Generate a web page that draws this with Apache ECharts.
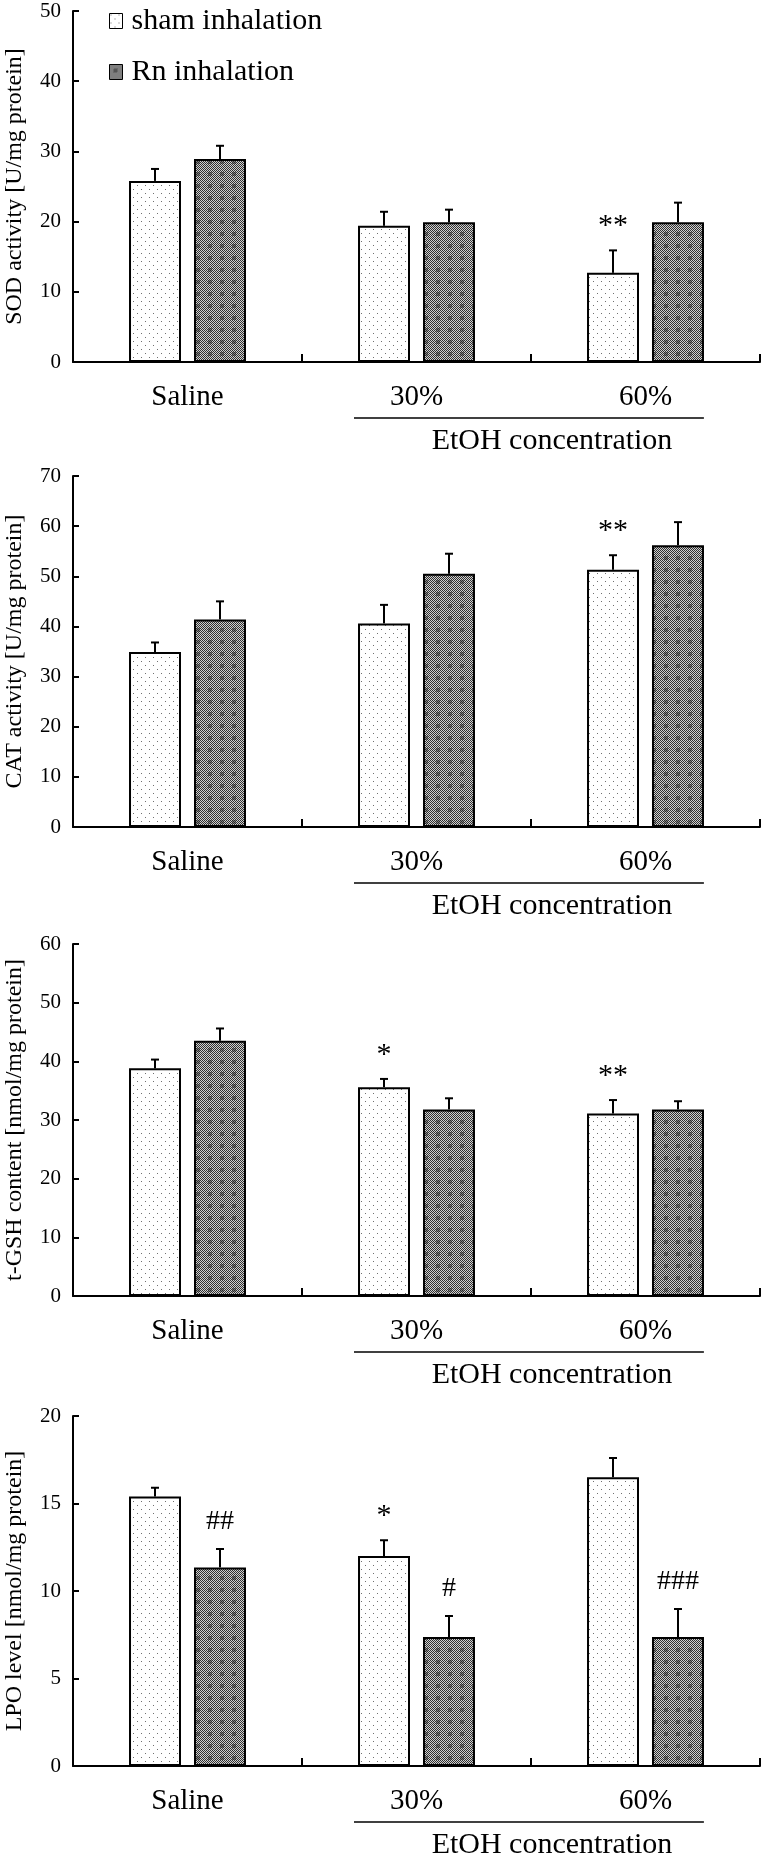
<!DOCTYPE html>
<html><head><meta charset="utf-8">
<script src="https://cdn.jsdelivr.net/npm/echarts@6/dist/echarts.min.js"></script>
<style>html,body{margin:0;padding:0;background:#fff}#c{width:763px;height:1855px}</style>
</head><body><div id="c"></div>
<script>
// ---------- data ----------
const categories = ['Saline', '30%', '60%'];
const seriesNames = ['sham inhalation', 'Rn inhalation'];
const yNames = ['SOD activity [U/mg protein]', 'CAT activity [U/mg protein]', 't-GSH content [nmol/mg protein]', 'LPO level [nmol/mg protein]'];
const yMax = [50, 70, 60, 20];
const yStep = [10, 10, 10, 5];
const groupLabel = 'EtOH concentration';

const sodSham = [25.8, 19.4, 12.7];
const sodRn = [28.9, 19.9, 19.9];
const sodShamErr = [1.7, 2.0, 3.2];
const sodRnErr = [1.9, 1.8, 2.8];
const sodShamMarks = ['', '', '**'];
const sodRnMarks = ['', '', ''];

const catSham = [34.9, 40.6, 51.3];
const catRn = [41.4, 50.5, 56.2];
const catShamErr = [1.9, 3.7, 2.9];
const catRnErr = [3.6, 4.0, 4.6];
const catShamMarks = ['', '', '**'];
const catRnMarks = ['', '', ''];

const gshSham = [38.8, 35.6, 31.1];
const gshRn = [43.5, 31.8, 31.8];
const gshShamErr = [1.5, 1.4, 2.3];
const gshRnErr = [2.1, 1.9, 1.4];
const gshShamMarks = ['', '*', '**'];
const gshRnMarks = ['', '', ''];

const lpoSham = [15.4, 12.0, 16.5];
const lpoRn = [11.35, 7.37, 7.37];
const lpoShamErr = [0.5, 0.9, 1.1];
const lpoRnErr = [1.05, 1.2, 1.6];
const lpoShamMarks = ['', '*', ''];
const lpoRnMarks = ['##', '#', '###'];

// ---------- styling ----------
const FONT = "'Liberation Serif','Times New Roman',serif";
const panels = [
  {vals: [sodSham, sodRn], errs: [sodShamErr, sodRnErr], marks: [sodShamMarks, sodRnMarks]},
  {vals: [catSham, catRn], errs: [catShamErr, catRnErr], marks: [catShamMarks, catRnMarks]},
  {vals: [gshSham, gshRn], errs: [gshShamErr, gshRnErr], marks: [gshShamMarks, gshRnMarks]},
  {vals: [lpoSham, lpoRn], errs: [lpoShamErr, lpoRnErr], marks: [lpoShamMarks, lpoRnMarks]}
];
const gridTops = [11, 476, 944, 1416];
const gridHeights = [351, 351, 352, 350];
const BAR_W = 0.227, BAR_GAP = 0.25;

function dotPattern() {
  const c = document.createElement('canvas'); c.width = 8; c.height = 8;
  const g = c.getContext('2d');
  g.fillStyle = '#fff'; g.fillRect(0, 0, 8, 8);
  g.fillStyle = '#707070';
  g.fillRect(1, 1, 1, 1); g.fillRect(5, 5, 1, 1);
  return {image: c, repeat: 'repeat'};
}
function checkPattern() {
  const n = 12;
  const c = document.createElement('canvas'); c.width = n; c.height = n;
  const g = c.getContext('2d');
  for (let y = 0; y < n; y++) for (let x = 0; x < n; x++) {
    const d = Math.max(Math.abs(x - 5.5), Math.abs(y - 5.5));
    const dark = (x + y) % 2 === 0;
    let col;
    if (d < 2.5) col = dark ? '#2a2a2a' : '#808080';
    else col = dark ? '#303030' : '#cfcfcf';
    g.fillStyle = col; g.fillRect(x, y, 1, 1);
  }
  return {image: c, repeat: 'repeat'};
}
const fills = [dotPattern(), checkPattern()];

const grids = [], xAxes = [], yAxes = [], series = [];
panels.forEach((p, pi) => {
  grids.push({left: 73, right: 3, top: gridTops[pi], height: gridHeights[pi], containLabel: false, outerBoundsMode: 'none'});
  xAxes.push({
    type: 'category', gridIndex: pi, data: categories,
    axisLine: {lineStyle: {color: '#000', width: 2}},
    axisTick: {show: true, inside: true, length: 8, lineStyle: {color: '#000', width: 2}},
    axisLabel: {color: '#000', fontFamily: FONT, fontSize: 29, margin: 21},
    splitLine: {show: false}
  });
  yAxes.push({
    type: 'value', gridIndex: pi, min: 0, max: yMax[pi], interval: yStep[pi],
    splitLine: {show: false},
    axisLine: {show: true, lineStyle: {color: '#000', width: 2}},
    axisTick: {show: true, inside: true, length: 6, lineStyle: {color: '#000', width: 2}},
    axisLabel: {color: '#000', fontFamily: FONT, fontSize: 21, margin: 12},
    name: yNames[pi], nameLocation: 'middle', nameGap: 46,
    nameTextStyle: {color: '#000', fontFamily: FONT, fontSize: 24}
  });
  [0, 1].forEach(g => {
    series.push({
      type: 'bar', name: seriesNames[g], xAxisIndex: pi, yAxisIndex: pi,
      data: p.vals[g], barWidth: (BAR_W * 100) + '%', barGap: (BAR_GAP * 100) + '%',
      itemStyle: {color: fills[g], borderColor: '#000', borderWidth: 2},
      emphasis: {disabled: true}, silent: true
    });
  });
  [0, 1].forEach(g => {
    const means = p.vals[g], errs = p.errs[g], marks = p.marks[g];
    series.push({
      type: 'custom', xAxisIndex: pi, yAxisIndex: pi, silent: true, z: 5,
      data: means.map((v, i) => [i, v + errs[i]]),
      encode: {x: 0, y: 1},
      renderItem: function (params, api) {
        const i = params.dataIndex;
        const band = api.size([1, 0])[0];
        const off = (g === 0 ? -1 : 1) * (BAR_W + BAR_W * BAR_GAP) / 2 * band;
        const base = api.coord([i, means[i]]);
        const top = api.coord([i, means[i] + errs[i]]);
        const x = base[0] + off;
        const children = [
          {type: 'line', shape: {x1: x, y1: base[1], x2: x, y2: top[1]}, style: {stroke: '#000', lineWidth: 2}},
          {type: 'line', shape: {x1: x - 4, y1: top[1], x2: x + 4, y2: top[1]}, style: {stroke: '#000', lineWidth: 2}}
        ];
        if (marks[i]) {
          const isHash = marks[i].indexOf('#') >= 0;
          children.push({type: 'text', x: x, y: top[1] - (isHash ? 27 : 24),
            style: {text: marks[i], fill: '#000', fontFamily: FONT, fontSize: isHash ? 28 : 30,
              align: 'center', verticalAlign: 'middle'}});
        }
        return {type: 'group', children: children};
      }
    });
  });
});

const chart = echarts.init(document.getElementById('c'));
chart.setOption({
  animation: false,
  backgroundColor: '#fff',
  grid: grids, xAxis: xAxes, yAxis: yAxes, series: series,
  legend: {
    data: seriesNames, orient: 'vertical', left: 104, top: 0,
    itemWidth: 13, itemHeight: 15, itemGap: 19, icon: 'rect',
    itemStyle: {borderColor: '#000', borderWidth: 1},
    textStyle: {color: '#000', fontFamily: FONT, fontSize: 30, lineHeight: 32, padding: [0, 0, 0, 4]},
    selectedMode: false
  }
});

// group underline + label under the EtOH categories
const graphics = [];
panels.forEach((p, pi) => {
  const c1 = chart.convertToPixel({xAxisIndex: pi}, categories[1]);
  const c2 = chart.convertToPixel({xAxisIndex: pi}, categories[2]);
  const band = c2 - c1;
  const y0 = chart.convertToPixel({yAxisIndex: pi}, 0);
  graphics.push({type: 'line', silent: true,
    shape: {x1: c1 - 0.273 * band, y1: y0 + 56, x2: c2 + 0.255 * band, y2: y0 + 56},
    style: {stroke: '#000', lineWidth: 1.5}});
  graphics.push({type: 'text', silent: true, x: (c1 + c2) / 2 + 21, y: y0 + 79,
    style: {text: groupLabel, fill: '#000', fontFamily: FONT, fontSize: 30, align: 'center', verticalAlign: 'middle'}});
});
chart.setOption({graphic: graphics});
</script>
</body></html>
